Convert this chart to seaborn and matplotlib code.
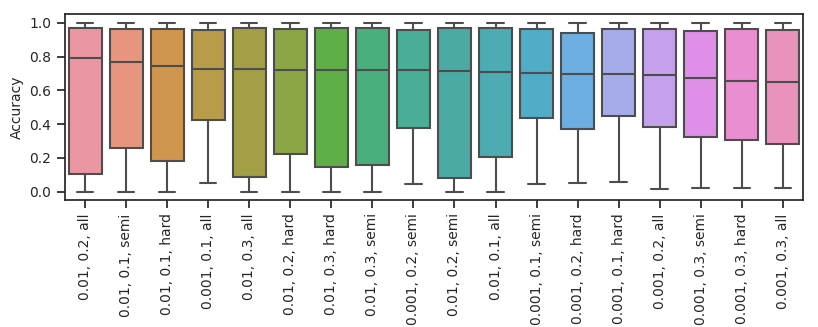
import numpy as np
import pandas as pd
import seaborn as sns
import matplotlib
matplotlib.use("Agg")
import matplotlib.pyplot as plt

# settings: lr, margin, mining strategy
labels = ["0.01, 0.2, all", "0.01, 0.1, semi", "0.01, 0.1, hard", "0.001, 0.1, all",
          "0.01, 0.3, all", "0.01, 0.2, hard", "0.01, 0.3, hard", "0.01, 0.3, semi",
          "0.001, 0.2, semi", "0.01, 0.2, semi", "0.01, 0.1, all", "0.001, 0.1, semi",
          "0.001, 0.2, hard", "0.001, 0.1, hard", "0.001, 0.2, all", "0.001, 0.3, semi",
          "0.001, 0.3, hard", "0.001, 0.3, all"]

# box summary
acc_min = [0.0, 0.0, 0.0, 0.052, 0.0, 0.0, 0.0, 0.0, 0.046,
           0.0, 0.0, 0.044, 0.052, 0.057, 0.018, 0.020, 0.020, 0.024]
acc_q1 = [0.107, 0.257, 0.184, 0.425, 0.089, 0.222, 0.145, 0.160, 0.376,
          0.079, 0.207, 0.435, 0.370, 0.449, 0.384, 0.322, 0.306, 0.285]
acc_med = [0.794, 0.767, 0.743, 0.727, 0.727, 0.721, 0.721, 0.719, 0.719,
           0.717, 0.711, 0.705, 0.698, 0.699, 0.690, 0.674, 0.658, 0.652]
acc_q3 = [0.969, 0.964, 0.966, 0.957, 0.969, 0.966, 0.970, 0.969, 0.960,
          0.969, 0.969, 0.966, 0.939, 0.966, 0.966, 0.953, 0.963, 0.957]
acc_max = [1.0] * 18

rows = []
for i, lab in enumerate(labels):
    for v in [acc_min[i], acc_q1[i], acc_med[i], acc_q3[i], acc_max[i]]:
        rows.append({"setting": lab, "Accuracy": v})
df = pd.DataFrame(rows)

sns.set_style("ticks")
plt.rcParams.update({"axes.linewidth": 1.25,
                     "xtick.major.size": 6, "ytick.major.size": 6,
                     "xtick.major.width": 1.25, "ytick.major.width": 1.25})

# old-style seaborn colours: husl with l=.7, then desaturated
pal = [sns.desaturate(c, 0.75) for c in sns.husl_palette(len(labels), l=0.7)]

fig, ax = plt.subplots(figsize=(8.18, 3.27), dpi=100)
sns.boxplot(data=df, x="setting", y="Accuracy", hue="setting", palette=pal,
            saturation=1, linewidth=1.5, linecolor="0.3", legend=False, ax=ax)
ax.set_xlabel("")
ax.set_ylabel("Accuracy", fontsize=10)
ax.tick_params(axis="x", labelrotation=90, labelsize=10)
ax.tick_params(axis="y", labelsize=10)
ax.set_ylim(-0.05, 1.05)
ax.set_yticks([0.0, 0.2, 0.4, 0.6, 0.8, 1.0])
plt.subplots_adjust(left=0.079, right=0.982, top=0.956, bottom=0.388)
fig.savefig("out.png", dpi=100)
